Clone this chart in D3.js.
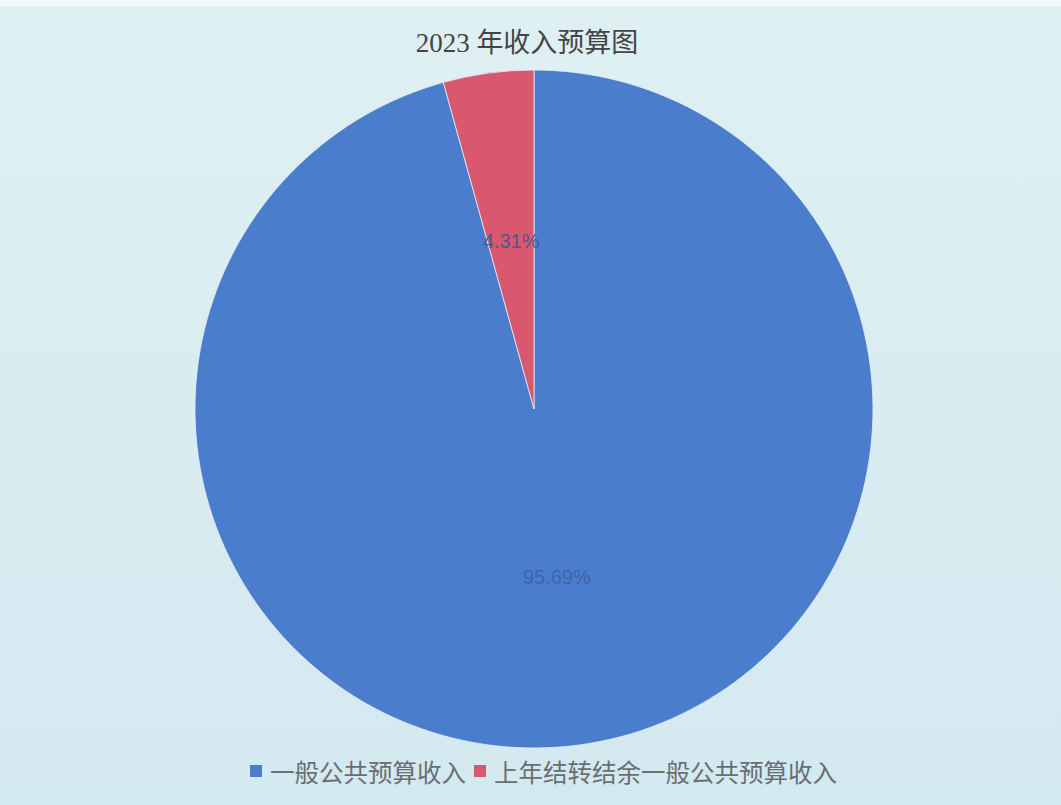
<!DOCTYPE html>
<html>
<head>
<meta charset="utf-8">
<script src="https://cdn.jsdelivr.net/npm/d3@7"></script>
<style>
html,body{margin:0;padding:0;background:#d9ecf1;}
svg{display:block;}
</style>
</head>
<body>
<svg id="chart" width="1061" height="805"></svg>
<script>
const title = "2023 年收入预算图";
const categories = ["一般公共预算收入", "上年结转结余一般公共预算收入"];
const values = [95.69, 4.31];
const labels = ["95.69%", "4.31%"];
const colors = ["#4a7ecc", "#d9586f"];
const labelColors = ["#3f64a8", "#4a5a8c"];

const W = 1061, H = 805;
const svg = d3.select("#chart");

const bg = svg.append("defs").append("linearGradient").attr("id","bg").attr("x1",0).attr("y1",0).attr("x2",0).attr("y2",1);
bg.append("stop").attr("offset","0%").attr("stop-color","#dff0f3");
bg.append("stop").attr("offset","100%").attr("stop-color","#d3e9f0");
svg.append("rect").attr("width",W).attr("height",H).attr("fill","url(#bg)");
svg.append("rect").attr("width",W).attr("height",6).attr("fill","#f4fafb");

svg.append("text")
  .attr("x",527).attr("y",52)
  .attr("text-anchor","middle")
  .attr("font-family","'Liberation Serif','Noto Sans CJK SC',serif")
  .attr("font-size",27)
  .attr("fill","#454545")
  .text(title);

const cx = 534, cy = 409, r = 339;
const data = categories.map((c,i)=>({name:c, value:values[i], label:labels[i], color:colors[i], lc:labelColors[i]}));
const pie = d3.pie().sort(null).value(d=>d.value).startAngle(0).endAngle(2*Math.PI);
const arc = d3.arc().innerRadius(0).outerRadius(r);
const labelArc = d3.arc().innerRadius(0).outerRadius(r);

const g = svg.append("g").attr("transform",`translate(${cx},${cy})`);
const arcs = pie(data);
g.selectAll("path").data(arcs).join("path")
  .attr("d",arc)
  .attr("fill",d=>d.data.color)
  .attr("stroke","#e6eef5")
  .attr("stroke-width",0.8);

g.selectAll("text.lbl").data(arcs).join("text")
  .attr("class","lbl")
  .attr("transform",d=>{const c=labelArc.centroid(d);return `translate(${c[0]},${c[1]})`;})
  .attr("text-anchor","middle")
  .attr("dominant-baseline","central")
  .attr("font-family","'Liberation Sans','Noto Sans',sans-serif")
  .attr("font-size",20)
  .attr("fill",d=>d.data.lc)
  .text(d=>d.data.label);

// legend
const legend = svg.append("g").attr("transform","translate(0,771)");
const fontSize = 24.5;
let x = 250;
data.forEach((d,i)=>{
  legend.append("rect").attr("x",x).attr("y",-6).attr("width",12).attr("height",12).attr("fill",d.color);
  const t = legend.append("text")
    .attr("x",x+20).attr("y",0)
    .attr("dominant-baseline","central")
    .attr("font-family","'Noto Sans CJK SC',sans-serif")
    .attr("font-size",fontSize)
    .attr("fill","#6a6e72")
    .text(d.name);
  x += 20 + t.node().getComputedTextLength() + 8;
});
</script>
</body>
</html>
